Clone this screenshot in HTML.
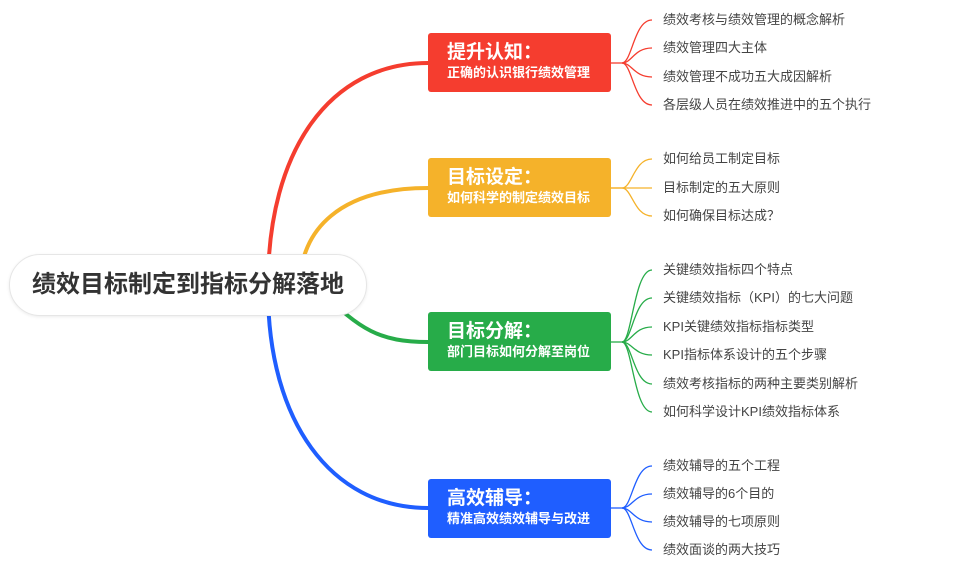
<!DOCTYPE html>
<html><head><meta charset="utf-8"><style>
body{margin:0;width:955px;height:571px;background:#fff;overflow:hidden;position:relative;font-family:"Liberation Sans","Noto Sans CJK SC",sans-serif}
.root{position:absolute;left:9px;top:254px;width:358px;height:62px;border:1px solid #e6e6e6;border-radius:32px;background:#fff;box-sizing:border-box;font-size:24px;font-weight:bold;color:#333;line-height:60px;text-align:center;box-shadow:0 1px 3px rgba(0,0,0,.08)}
.b{position:absolute;left:428px;width:183px;height:59px;border-radius:3px;color:#fff;box-sizing:border-box;padding:9px 0 0 19px}
.b .t{font-size:19px;font-weight:bold;line-height:22px}
.b .s{font-size:13px;font-weight:bold;line-height:18px}
.l{position:absolute;left:663px;font-size:13px;color:#444;line-height:16px;white-space:nowrap}
</style></head><body>
<svg width="955" height="571" style="position:absolute;left:0;top:0" fill="none">
<g stroke-width="4">
<path d="M268 285 C268 150 330 63 428 63" stroke="#f53d2f"/>
<path d="M300 285 C300 230 340 188 428 188" stroke="#f5b22a"/>
<path d="M320 290 C360 330 380 342 428 342" stroke="#27ac49"/>
<path d="M268 290 C268 420 330 508 428 508" stroke="#1f5eff"/>
</g>
<g stroke-width="1.3">
<g stroke="#f53d2f"><path d="M610 63H622"/><path d="M622 63C632 63 634 20 652 20"/><path d="M622 63C632 63 634 48 652 48"/><path d="M622 63C632 63 634 77 652 77"/><path d="M622 63C632 63 634 105 652 105"/></g>
<g stroke="#f5b22a"><path d="M610 188H622"/><path d="M622 188C632 188 634 159 652 159"/><path d="M610 188H652"/><path d="M622 188C632 188 634 216 652 216"/></g>
<g stroke="#27ac49"><path d="M610 342H622"/><path d="M622 342C632 342 634 270 652 270"/><path d="M622 342C632 342 634 298 652 298"/><path d="M622 342C632 342 634 327 652 327"/><path d="M622 342C632 342 634 355 652 355"/><path d="M622 342C632 342 634 384 652 384"/><path d="M622 342C632 342 634 412 652 412"/></g>
<g stroke="#1f5eff"><path d="M610 508H622"/><path d="M622 508C632 508 634 466 652 466"/><path d="M622 508C632 508 634 494 652 494"/><path d="M622 508C632 508 634 522 652 522"/><path d="M622 508C632 508 634 550 652 550"/></g>
</g>
</svg>
<div class="root">绩效目标制定到指标分解落地</div>
<div class="b" style="top:33px;background:#f53d2f"><div class="t">提升认知：</div><div class="s">正确的认识银行绩效管理</div></div>
<div class="b" style="top:158px;background:#f5b22a"><div class="t">目标设定：</div><div class="s">如何科学的制定绩效目标</div></div>
<div class="b" style="top:312px;background:#27ac49"><div class="t">目标分解：</div><div class="s">部门目标如何分解至岗位</div></div>
<div class="b" style="top:479px;background:#1f5eff"><div class="t">高效辅导：</div><div class="s">精准高效绩效辅导与改进</div></div>
<div class="l" style="top:12px">绩效考核与绩效管理的概念解析</div>
<div class="l" style="top:40px">绩效管理四大主体</div>
<div class="l" style="top:69px">绩效管理不成功五大成因解析</div>
<div class="l" style="top:97px">各层级人员在绩效推进中的五个执行</div>
<div class="l" style="top:151px">如何给员工制定目标</div>
<div class="l" style="top:180px">目标制定的五大原则</div>
<div class="l" style="top:208px">如何确保目标达成？</div>
<div class="l" style="top:262px">关键绩效指标四个特点</div>
<div class="l" style="top:290px">关键绩效指标（KPI）的七大问题</div>
<div class="l" style="top:319px">KPI关键绩效指标指标类型</div>
<div class="l" style="top:347px">KPI指标体系设计的五个步骤</div>
<div class="l" style="top:376px">绩效考核指标的两种主要类别解析</div>
<div class="l" style="top:404px">如何科学设计KPI绩效指标体系</div>
<div class="l" style="top:458px">绩效辅导的五个工程</div>
<div class="l" style="top:486px">绩效辅导的6个目的</div>
<div class="l" style="top:514px">绩效辅导的七项原则</div>
<div class="l" style="top:542px">绩效面谈的两大技巧</div>
</body></html>
